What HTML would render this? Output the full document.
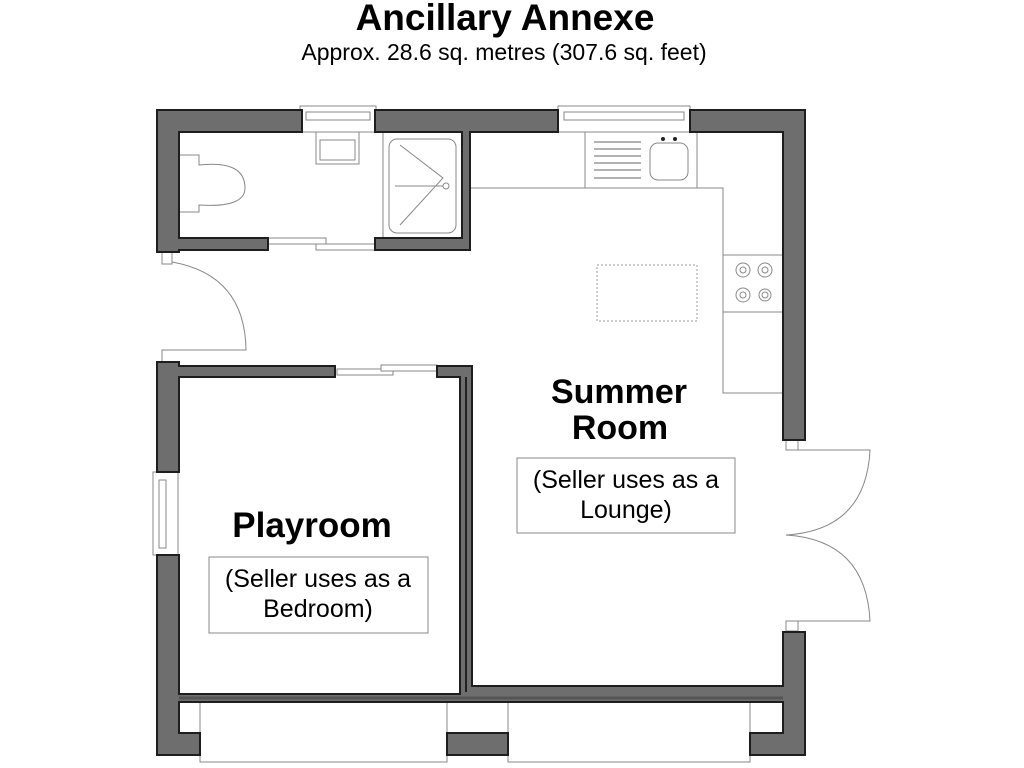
<!DOCTYPE html>
<html><head><style>
body{margin:0;background:#fff;width:1024px;height:768px;overflow:hidden}
svg{display:block}
.w{fill:#6e6e6e;stroke:#1e1e1e;stroke-width:2}
.l{fill:none;stroke:#888;stroke-width:1}
.f{fill:#fff;stroke:#888;stroke-width:1}
text{font-family:"Liberation Sans",sans-serif;fill:#000}
</style></head><body>
<svg width="1024" height="768" viewBox="0 0 1024 768">
<text x="505" y="30" font-size="37" font-weight="bold" text-anchor="middle">Ancillary Annexe</text>
<text x="504" y="60" font-size="23" text-anchor="middle">Approx. 28.6 sq. metres (307.6 sq. feet)</text>

<!-- kitchen counters -->
<path class="l" d="M470 188 H723 V393 H783"/>
<rect class="f" x="585" y="132" width="112" height="56"/>
<g stroke="#666" stroke-width="1">
<line x1="594" y1="142" x2="641" y2="142"/><line x1="594" y1="149" x2="641" y2="149"/><line x1="594" y1="156" x2="641" y2="156"/><line x1="594" y1="163" x2="641" y2="163"/><line x1="594" y1="170" x2="641" y2="170"/><line x1="594" y1="178" x2="641" y2="178"/></g>
<rect class="f" x="650" y="143" width="38" height="37" rx="8"/>
<circle cx="663" cy="139" r="2" fill="#222"/><circle cx="675" cy="139" r="2" fill="#222"/>
<rect class="f" x="723" y="255" width="60" height="57"/>
<g class="l"><circle cx="743" cy="270" r="7"/><circle cx="743" cy="270" r="3"/><circle cx="765" cy="270" r="7"/><circle cx="765" cy="270" r="3"/><circle cx="743" cy="295" r="7"/><circle cx="743" cy="295" r="3"/><circle cx="765" cy="295" r="6"/><circle cx="765" cy="295" r="3"/></g>
<rect x="597" y="265" width="100" height="56" fill="none" stroke="#999" stroke-dasharray="2,2"/>

<!-- bathroom fixtures -->
<rect class="f" x="316" y="132" width="43" height="32"/>
<rect class="f" x="320" y="140" width="35" height="20"/>
<path class="l" d="M179 155 H199 V165 Q245 160 245 188 Q245 208 199 205 V212 H179"/>
<rect class="f" x="383" y="132" width="79" height="106"/>
<rect class="f" x="389" y="139" width="67" height="94" rx="8"/>
<path class="l" d="M400 145 L443 178 L400 225 M395 186 H443"/><circle cx="446" cy="186" r="3" class="l"/>

<!-- doors -->
<rect class="f" x="268" y="238" width="58" height="6"/><rect class="f" x="316" y="244" width="59" height="6"/>
<rect class="f" x="337" y="369" width="56" height="6"/><rect class="f" x="381" y="365" width="56" height="6"/>
<rect class="f" x="162" y="252" width="10" height="12"/>
<path class="l" d="M172 262 Q245 275 246 350 H162 V362"/>
<rect class="f" x="786" y="440" width="12" height="10"/><rect class="f" x="786" y="621" width="12" height="10"/>
<path class="l" d="M798 450 H870 Q866 530 786 535 Q866 540 870 621 H798"/>

<!-- windows -->
<rect class="f" x="300" y="106" width="76" height="26"/><rect class="f" x="306" y="112" width="64" height="8"/>
<rect class="f" x="558" y="106" width="132" height="26"/><rect class="f" x="564" y="112" width="120" height="8"/>
<rect class="f" x="153" y="472" width="25" height="83"/><rect class="f" x="159" y="480" width="7" height="68"/>
<rect class="f" x="200" y="700" width="247" height="62" fill="#f3f3f3"/>
<rect class="f" x="508" y="700" width="242" height="62" fill="#f3f3f3"/>

<!-- outer walls -->
<path class="w" d="M157 110 H302 V132 H179 V238 H268 V250 H179 V252 H157 Z"/>
<path class="w" d="M375 110 H558 V132 H470 V250 H375 V238 H462 V132 H375 Z"/>
<path class="w" d="M690 110 H805 V440 H783 V132 H690 Z"/>
<path class="w" d="M157 362 H179 V366 H335 V377 H179 V472 H157 Z"/>
<path class="w" d="M437 366 H472 V686 H783 V632 H805 V755 H750 V733 H783 V702 H179 V733 H200 V755 H157 V555 H179 V694 H460 V377 H437 Z"/>
<rect class="w" x="447" y="733" width="61" height="22"/>
<line x1="179" y1="698" x2="783" y2="698" stroke="#555" stroke-width="3"/>
<line x1="466" y1="377" x2="466" y2="692" stroke="#222" stroke-width="2"/>

<!-- labels -->
<text x="619" y="403" font-size="34" font-weight="bold" text-anchor="middle">Summer</text>
<text x="620" y="439" font-size="34" font-weight="bold" text-anchor="middle">Room</text>
<rect x="517" y="458" width="218" height="75" fill="none" stroke="#888"/>
<text x="626" y="488" font-size="25" text-anchor="middle">(Seller uses as a</text>
<text x="626" y="518" font-size="25" text-anchor="middle">Lounge)</text>
<text x="312" y="537" font-size="35" font-weight="bold" text-anchor="middle">Playroom</text>
<rect x="209" y="557" width="219" height="76" fill="none" stroke="#888"/>
<text x="318" y="587" font-size="25" text-anchor="middle">(Seller uses as a</text>
<text x="318" y="617" font-size="25" text-anchor="middle">Bedroom)</text>
</svg>
</body></html>
